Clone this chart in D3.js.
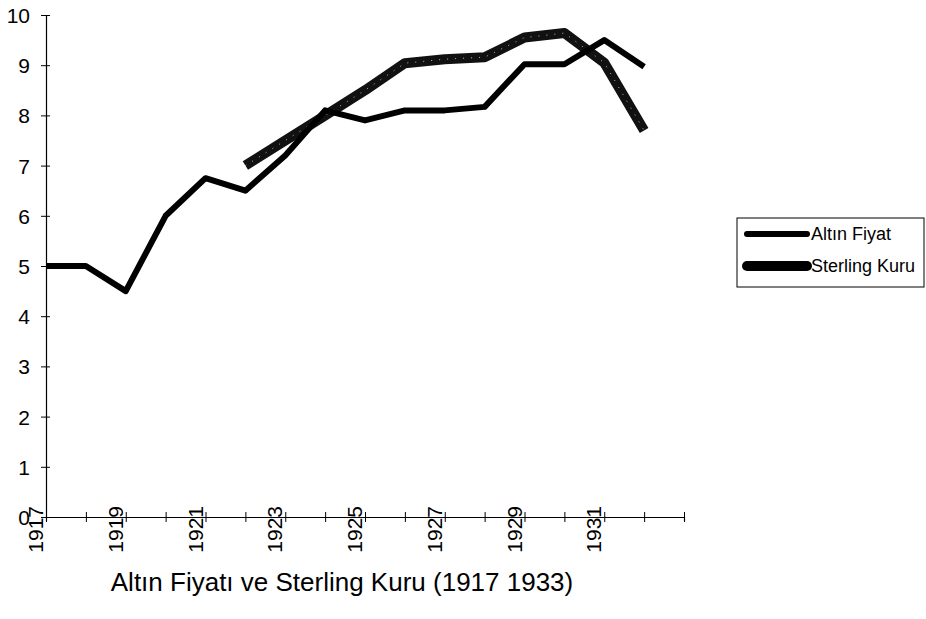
<!DOCTYPE html>
<html>
<head>
<meta charset="utf-8">
<script src="https://cdn.jsdelivr.net/npm/d3@7"></script>
<style>
  body { margin: 0; background: #fff; }
  text { font-family: "Liberation Sans", Arial, sans-serif; fill: #000; }
</style>
</head>
<body>
<div id="chart"></div>
<script>
// data
var years = [1917, 1918, 1919, 1920, 1921, 1922, 1923, 1924, 1925, 1926, 1927, 1928, 1929, 1930, 1931, 1932];
var altin = [5, 5, 4.5, 6, 6.75, 6.5, 7.2, 8.1, 7.9, 8.1, 8.1, 8.17, 9.02, 9.02, 9.5, 8.97];
var sterling = [null, null, null, null, null, 7.0, 7.5, 8.0, 8.5, 9.04, 9.12, 9.16, 9.55, 9.64, 9.05, 7.7];
var tickYears = d3.range(1917, 1934);
var labelYears = [1917, 1919, 1921, 1923, 1925, 1927, 1929, 1931];
var yTicks = [0, 1, 2, 3, 4, 5, 6, 7, 8, 9, 10];
var seriesNames = ["Altın Fiyat", "Sterling Kuru"];
var title = "Altın Fiyatı ve Sterling Kuru (1917 1933)";

var width = 926, height = 619;

var svg = d3.select("#chart").append("svg")
    .attr("width", width)
    .attr("height", height);

var x = d3.scalePoint().domain(tickYears).range([46, 684]);
var y = d3.scaleLinear().domain([0, 10]).range([517, 15]);

// y axis
var yAxis = svg.append("g")
    .attr("transform", "translate(46,0)")
    .call(d3.axisLeft(y).tickValues(yTicks).tickSize(4).tickPadding(12));
yAxis.select(".domain").attr("stroke", "#000").attr("stroke-width", 1.2);
yAxis.selectAll(".tick line").attr("x1", -5).attr("x2", 4).attr("stroke", "#000");
yAxis.selectAll(".tick text")
    .style("font-size", "21px")
    .attr("dy", "0.36em");

// x axis
var xAxis = svg.append("g")
    .attr("transform", "translate(0,517)")
    .call(d3.axisBottom(x).tickValues(tickYears).tickSize(4).tickFormat(""));
xAxis.select(".domain").attr("stroke", "#000").attr("stroke-width", 1.2);
xAxis.selectAll(".tick line").attr("y1", -5).attr("y2", 5).attr("stroke", "#000");

svg.append("g").selectAll("text")
    .data(labelYears)
    .enter().append("text")
    .attr("transform", function (d) { return "translate(" + (x(d) - 3) + ",506) rotate(-90)"; })
    .attr("text-anchor", "end")
    .style("font-size", "21px")
    .text(function (d) { return d; });

// lines
var line = d3.line()
    .defined(function (d) { return d != null; })
    .x(function (d, i) { return x(years[i]); })
    .y(function (d) { return y(d); });

svg.append("path")
    .datum(sterling)
    .attr("d", line)
    .attr("fill", "none")
    .attr("stroke", "#111")
    .attr("stroke-width", 10)
    .attr("stroke-linejoin", "round");

svg.append("path")
    .datum(sterling)
    .attr("d", line)
    .attr("fill", "none")
    .attr("stroke", "#fff")
    .attr("stroke-width", 1)
    .attr("stroke-dasharray", "1,7")
    .attr("opacity", 0.7);

svg.append("path")
    .datum(altin)
    .attr("d", line)
    .attr("fill", "none")
    .attr("stroke", "#000")
    .attr("stroke-width", 6)
    .attr("stroke-linejoin", "round");

// legend
var legend = svg.append("g");
legend.append("rect")
    .attr("x", 737).attr("y", 218)
    .attr("width", 187).attr("height", 69)
    .attr("fill", "#fff")
    .attr("stroke", "#000")
    .attr("stroke-width", 1);

var legendRows = legend.selectAll("g.row")
    .data(seriesNames)
    .enter().append("g")
    .attr("class", "row")
    .attr("transform", function (d, i) { return "translate(0," + (234 + i * 32) + ")"; });

legendRows.append("line")
    .attr("x1", 747).attr("x2", 807)
    .attr("stroke", "#000")
    .attr("stroke-width", function (d, i) { return i === 0 ? 6 : 10; })
    .attr("stroke-linecap", "round");

legendRows.append("text")
    .attr("x", 811)
    .attr("dy", "0.36em")
    .style("font-size", "18px")
    .text(function (d) { return d; });

// title
svg.append("text")
    .attr("x", 342)
    .attr("y", 591)
    .attr("text-anchor", "middle")
    .style("font-size", "26px")
    .text(title);
</script>
</body>
</html>
